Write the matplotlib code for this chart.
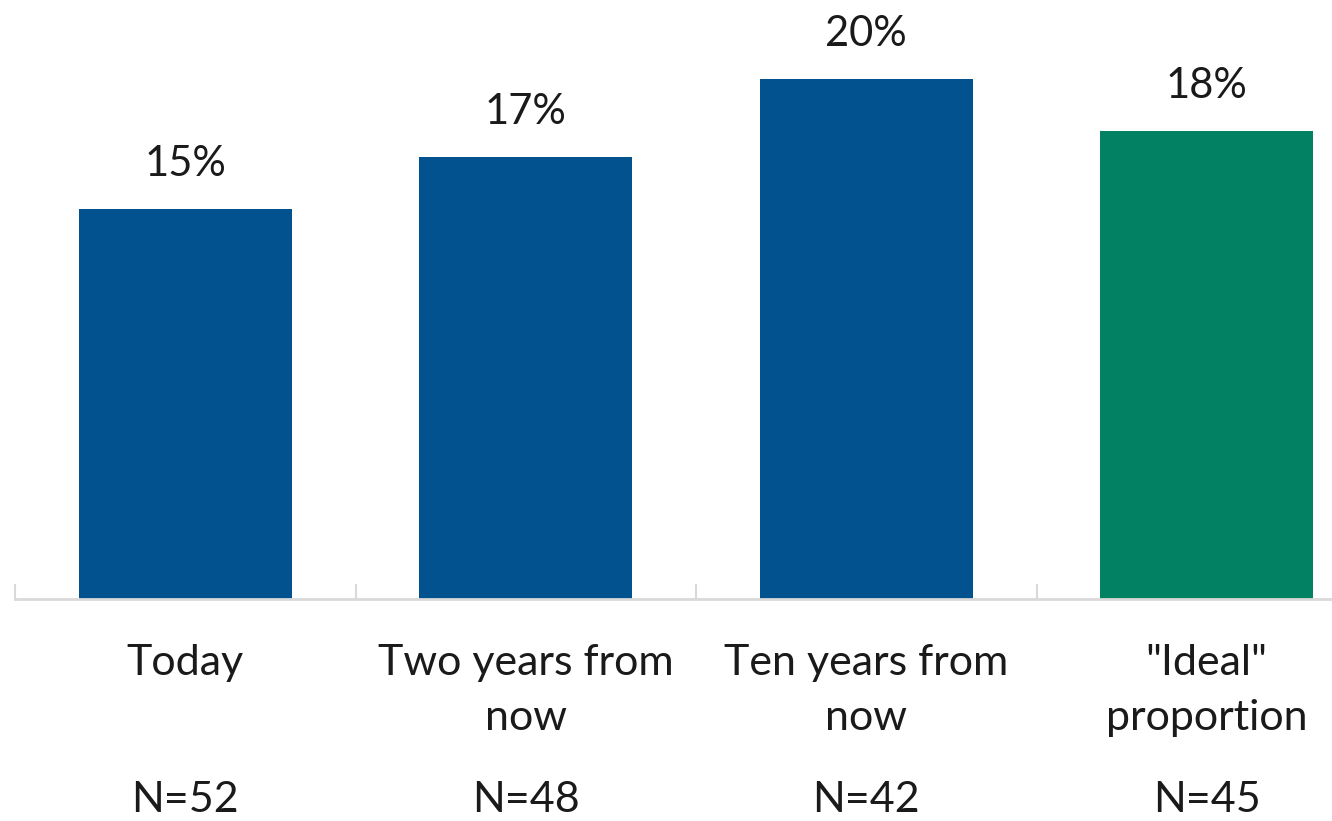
import matplotlib.pyplot as plt
from matplotlib.transforms import blended_transform_factory

categories = ["Today", "Two years from\nnow", "Ten years from\nnow", "\"Ideal\"\nproportion"]
values = [15, 17, 20, 18]
labels = ["15%", "17%", "20%", "18%"]
counts = ["N=52", "N=48", "N=42", "N=45"]
colors = ["#02528f", "#02528f", "#02528f", "#028263"]

W, H = 1332, 821
plt.rcParams['font.family'] = ['Lato', 'DejaVu Sans']

fig = plt.figure(figsize=(W / 100, H / 100), dpi=100)
# axis starts at x=15px, each category is ~340px wide, baseline at y=599px
ax = fig.add_axes([15 / W, (H - 599) / H, 4 * 340.5 / W, 22 * 26 / H])
ax.set_xlim(-0.5, 3.5)
ax.set_ylim(0, 22)

x = range(len(values))
bars = ax.bar(x, values, width=0.626, color=colors, zorder=1)

for b, lab in zip(bars, labels):
    ax.annotate(lab, (b.get_x() + b.get_width() / 2, b.get_height()),
                xytext=(0, 33), textcoords='offset pixels',
                ha='center', va='baseline', fontsize=30, color='#1a1a1a')

tr = blended_transform_factory(ax.transData, fig.transFigure)
for i, (cat, n) in enumerate(zip(categories, counts)):
    for j, line in enumerate(cat.split("\n")):
        ax.text(i, (H - 675 - 55 * j) / H, line, transform=tr,
                ha='center', va='baseline', fontsize=31, color='#1a1a1a')
    ax.text(i, (H - 812) / H, n, transform=tr,
            ha='center', va='baseline', fontsize=31, color='#1a1a1a')

for s in ['top', 'right', 'left']:
    ax.spines[s].set_visible(False)
ax.spines['bottom'].set_color('#d9d9d9')
ax.spines['bottom'].set_linewidth(2)
ax.set_yticks([])
ax.set_xticks([-0.5, 0.5, 1.5, 2.5, 3.5])
ax.set_xticklabels([])
ax.tick_params(axis='x', direction='in', length=11, width=1.5, color='#d9d9d9')

fig.savefig("out.png", dpi=100)
